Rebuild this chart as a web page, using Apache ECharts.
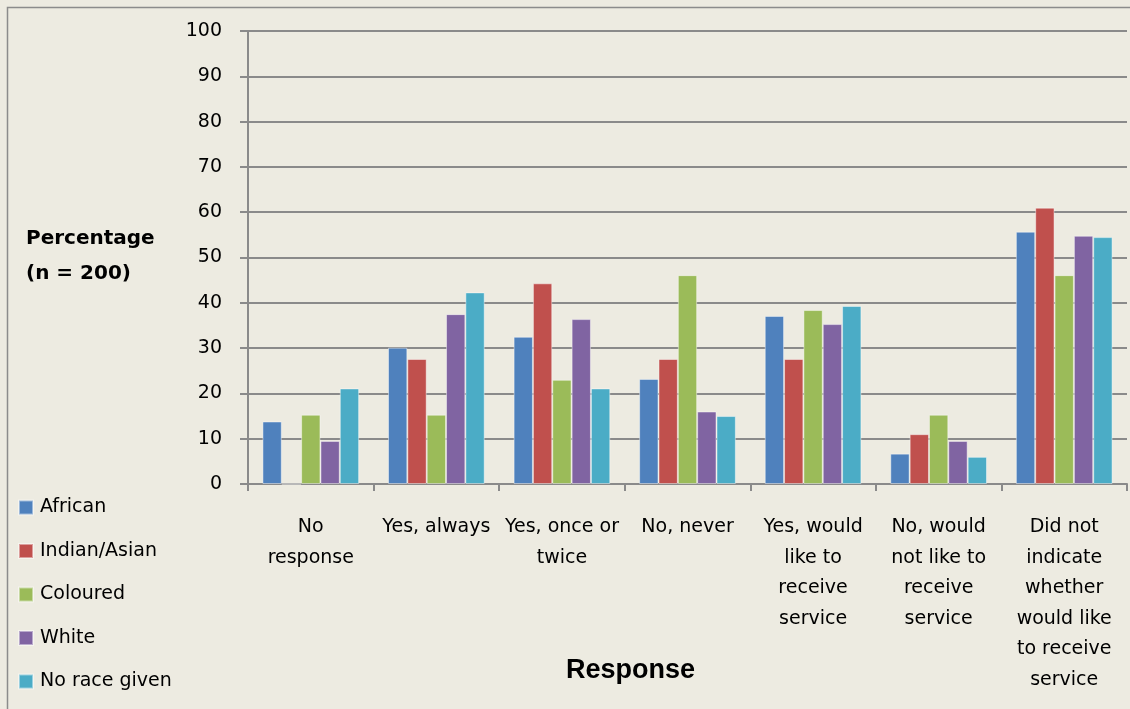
<!DOCTYPE html>
<html>
<head>
<meta charset="utf-8">
<script src="https://cdn.jsdelivr.net/npm/echarts@6/dist/echarts.min.js"></script>
<style>
  html, body { margin: 0; padding: 0; background: #EDEBE1; }
  #chart { width: 1130px; height: 709px; }
</style>
</head>
<body>
<div id="chart"></div>
<script>
// Response categories (line breaks as displayed under the axis)
const categories = [
  'No\nresponse',
  'Yes, always',
  'Yes, once or\ntwice',
  'No, never',
  'Yes, would\nlike to\nreceive\nservice',
  'No, would\nnot like to\nreceive\nservice',
  'Did not\nindicate\nwhether\nwould like\nto receive\nservice'
];

// Percentages per race group
const african     = [13.8, 30.1, 32.5, 23.2, 37.1, 6.7, 55.7];
const indianAsian = [0,    27.6, 44.3, 27.6, 27.6, 11.0, 61.0];
const coloured    = [15.3, 15.3, 23.0, 46.1, 38.4, 15.3, 46.1];
const white       = [9.5,  37.5, 36.4, 16.0, 35.3, 9.5,  54.8];
const noRace      = [21.1, 42.3, 21.1, 15.0, 39.3, 6.0,  54.5];

const seriesNames  = ['African', 'Indian/Asian', 'Coloured', 'White', 'No race given'];
const seriesData   = [african, indianAsian, coloured, white, noRace];
const seriesColors = ['#4F81BD', '#C0504D', '#9BBB59', '#8064A2', '#4BACC6'];

const bodyFont = '"DejaVu Sans", Verdana, sans-serif';

const chart = echarts.init(document.getElementById('chart'), null, { renderer: 'canvas' });

chart.setOption({
  backgroundColor: '#EDEBE1',
  animation: false,
  legend: {
    orient: 'vertical',
    left: 18,
    top: 498,
    padding: 0,
    itemWidth: 14,
    itemHeight: 14,
    itemGap: 24.5,
    icon: 'rect',
    textStyle: { fontFamily: bodyFont, fontSize: 19, color: '#000', padding: [0, 0, 0, 2] },
    data: seriesNames
  },
  grid: {
    left: 248,
    right: 3,
    top: 31,
    bottom: 225,
    containLabel: false
  },
  xAxis: {
    type: 'category',
    data: categories,
    axisLine: { show: true, lineStyle: { color: '#8A8A8A', width: 2 } },
    axisTick: { show: true, alignWithLabel: false, length: 7, lineStyle: { color: '#8A8A8A', width: 2 } },
    axisLabel: {
      interval: 0,
      margin: 28,
      fontFamily: bodyFont,
      fontSize: 19,
      lineHeight: 30.5,
      color: '#000',
      align: 'center',
      verticalAlign: 'top'
    }
  },
  yAxis: {
    type: 'value',
    min: 0,
    max: 100,
    interval: 10,
    axisLine: { show: true, lineStyle: { color: '#8A8A8A', width: 2 } },
    axisTick: { show: true, inside: false, length: 8, lineStyle: { color: '#8A8A8A', width: 2 } },
    splitLine: { show: true, lineStyle: { color: '#8A8A8A', width: 2 } },
    axisLabel: {
      margin: 26,
      fontFamily: bodyFont,
      fontSize: 19,
      color: '#000'
    }
  },
  series: seriesNames.map((name, i) => ({
    name: name,
    type: 'bar',
    data: seriesData[i],
    barGap: '0%',
    barCategoryGap: '23%',
    itemStyle: {
      color: seriesColors[i],
      borderColor: 'rgba(255,255,255,0.45)',
      borderWidth: 1
    }
  })),
  graphic: [
    {
      type: 'rect',
      silent: true,
      shape: { x: 7.5, y: 7.5, width: 1200, height: 800 },
      style: { fill: 'none', stroke: '#8C8C8C', lineWidth: 1.5 }
    },
    {
      type: 'text',
      left: 26,
      top: 221,
      style: {
        text: 'Percentage\n(n = 200)',
        fontFamily: bodyFont,
        fontWeight: 'bold',
        fontSize: 20,
        lineHeight: 35,
        fill: '#000'
      }
    },
    {
      type: 'text',
      left: 566,
      top: 657,
      style: {
        text: 'Response',
        fontFamily: '"Liberation Sans", Arial, sans-serif',
        fontWeight: 'bold',
        fontSize: 27,
        fill: '#000'
      }
    }
  ]
});
</script>
</body>
</html>
